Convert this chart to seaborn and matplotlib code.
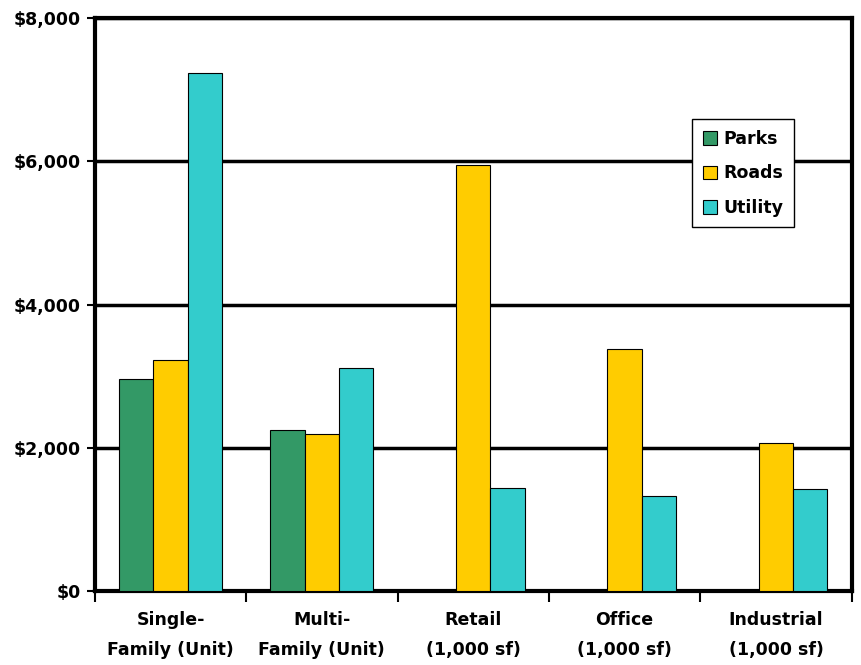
import matplotlib
matplotlib.use("Agg")
import matplotlib.pyplot as plt
import seaborn as sns
import pandas as pd
import numpy as np
from matplotlib.ticker import FuncFormatter

categories = ["Single-\nFamily (Unit)", "Multi-\nFamily (Unit)", "Retail\n(1,000 sf)",
              "Office\n(1,000 sf)", "Industrial\n(1,000 sf)"]
parks = [2960, 2250, np.nan, np.nan, np.nan]
roads = [3225, 2190, 5945, 3375, 2075]
utility = [7235, 3110, 1435, 1325, 1420]
series = ["Parks", "Roads", "Utility"]
colors = ["#339966", "#FFCC00", "#33CCCC"]

rows = []
for name, vals in zip(series, [parks, roads, utility]):
    for c, v in zip(categories, vals):
        rows.append({"cat": c, "series": name, "value": v})
df = pd.DataFrame(rows)

sns.set_style("white")
plt.rcParams["font.family"] = ["DejaVu Sans"]
plt.rcParams["text.color"] = "black"

fig = plt.figure(figsize=(8.62, 6.65), dpi=100)
ax = fig.add_axes([0.110, 0.111, 0.878, 0.862])

sns.barplot(data=df, x="cat", y="value", hue="series", order=categories,
            hue_order=series, palette=colors, width=0.68, edgecolor="black",
            linewidth=0.8, saturation=1, ax=ax, errorbar=None, zorder=3)

ax.set_ylim(0, 8000)
ax.set_xlim(-0.5, 4.5)
ax.set_yticks([0, 2000, 4000, 6000, 8000])
ax.yaxis.set_major_formatter(FuncFormatter(lambda v, p: f"${v:,.0f}"))
ax.grid(axis="y", color="black", linewidth=2.5, zorder=1)
ax.set_axisbelow(True)
for s in ax.spines.values():
    s.set_visible(True)
    s.set_color("black")
    s.set_linewidth(3)
ax.set_xlabel("")
ax.set_ylabel("")
ax.tick_params(axis="y", which="major", length=6, width=1.5, direction="out",
               left=True, labelsize=12.5, pad=4, color="black")
ax.tick_params(axis="x", which="major", length=0, labelsize=12.5, pad=14)
ax.set_xticks(np.arange(-0.5, 5.0, 1.0), minor=True)
ax.tick_params(axis="x", which="minor", length=8, width=1.5, bottom=True, color="black")
for lbl in ax.get_xticklabels() + ax.get_yticklabels():
    lbl.set_fontweight("bold")
    lbl.set_color("black")
for lbl in ax.get_xticklabels():
    lbl.set_linespacing(1.9)

leg = ax.legend(loc="upper left", bbox_to_anchor=(0.778, 0.838), frameon=True,
                fancybox=False, edgecolor="black", fontsize=12.5, framealpha=1,
                handlelength=0.8, handleheight=0.8, handletextpad=0.4,
                labelspacing=0.95, borderpad=0.6)
leg.get_frame().set_linewidth(1)
leg.set_zorder(10)
for t in leg.get_texts():
    t.set_fontweight("bold")
    t.set_color("black")
for h in leg.legend_handles:
    h.set_edgecolor("black")
    h.set_linewidth(0.8)

fig.savefig("out.png", dpi=100)
